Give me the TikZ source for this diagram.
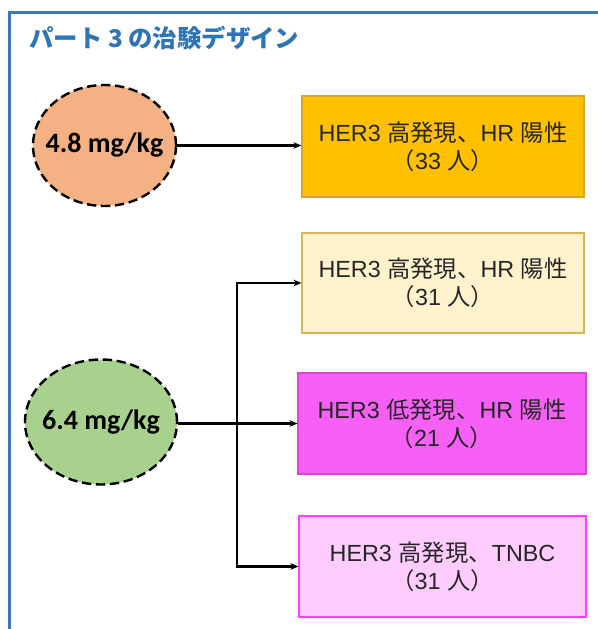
\documentclass[tikz,border=0pt]{standalone}
\usepackage{fontspec}
\setmainfont{Liberation Sans}
\newfontfamily\jp{Noto Sans CJK JP}
\newfontfamily\carl{Carlito}
\usetikzlibrary{shapes.geometric,arrows.meta}
\definecolor{frameblue}{HTML}{3D78B3}
\definecolor{titleblue}{HTML}{2E75B6}
\definecolor{orangeE}{HTML}{F4B183}
\definecolor{greenE}{HTML}{A9D18E}
\definecolor{gold}{HTML}{FFC000}
\definecolor{goldB}{HTML}{D6A52A}
\definecolor{cream}{HTML}{FFF2CC}
\definecolor{creamB}{HTML}{D6B656}
\definecolor{mag}{HTML}{F760F7}
\definecolor{magB}{HTML}{E040E0}
\definecolor{pinkL}{HTML}{FFCCFF}
\definecolor{pinkB}{HTML}{FF40FF}
\tikzset{
  dose/.style={ellipse, draw=black, dashed, dash pattern=on 7pt off 3.5pt, line width=1.8pt, font=\carl\bfseries\fontsize{21}{24}\selectfont, inner xsep=-12pt, inner ysep=0pt},
  grp/.style={rectangle, line width=0.9pt, align=center, font=\fontsize{17.5}{21}\selectfont, text=black!85, inner sep=0pt},
  arr/.style={line width=1.6pt, -{Stealth[length=6pt,width=5pt]}},
}
\begin{document}
\begin{tikzpicture}[x=0.75pt,y=-0.75pt]
\useasboundingbox (0,0) rectangle (598,629);
\draw[frameblue, line width=1.6pt] (610,12.5) -- (9.5,12.5) -- (9.5,640);
\node[anchor=west, text=titleblue, font=\jp\bfseries\fontsize{18.3}{22}\selectfont, inner sep=0pt] (title) at (29,38) {パート 3 の治験デザイン};

\node[dose, fill=orangeE, minimum width=107.25pt, minimum height=90.75pt] (e1) at (104.5,145.5) {4.8 mg/kg};
\node[dose, fill=greenE, minimum width=114pt, minimum height=93.75pt] (e2) at (101,422) {6.4 mg/kg};

\node[grp, fill=gold, draw=goldB, minimum width=211.5pt, minimum height=75.75pt] (b1) at (443,146.5) {HER3 {\jp 高発現、}HR {\jp 陽性}\\{\jp （}33 {\jp 人）}};
\node[grp, fill=cream, draw=creamB, minimum width=211.5pt, minimum height=75pt] (b2) at (443,283) {HER3 {\jp 高発現、}HR {\jp 陽性}\\{\jp （}31 {\jp 人）}};
\node[grp, fill=mag, draw=magB, minimum width=216pt, minimum height=75.75pt] (b3) at (442,423.5) {HER3 {\jp 低発現、}HR {\jp 陽性}\\{\jp （}21 {\jp 人）}};
\node[grp, fill=pinkL, draw=pinkB, minimum width=215.25pt, minimum height=75.75pt] (b4) at (442.5,566.5) {HER3 {\jp 高発現、}TNBC\\{\jp （}31 {\jp 人）}};

\coordinate (j) at (237,423.5);
\draw[arr] (e1.east) -- (e1.east -| b1.west);
\draw[arr] (e2.east |- j) -- (b3.west);
\draw[arr] (j) |- (b2.west);
\draw[arr] (j) |- (b4.west);
\end{tikzpicture}
\end{document}
